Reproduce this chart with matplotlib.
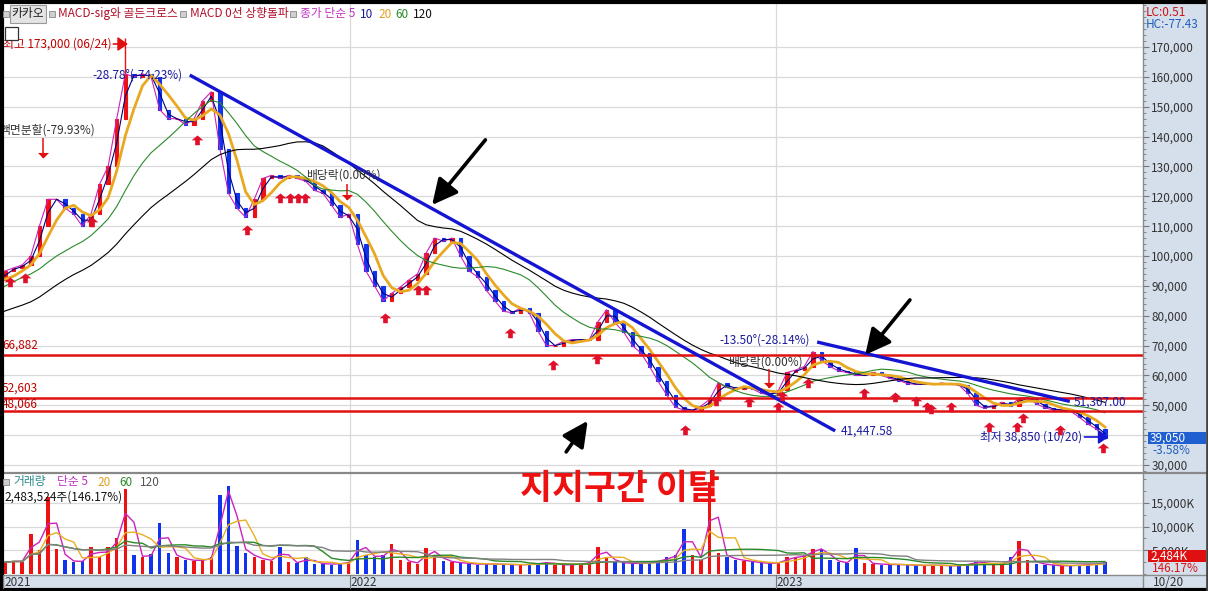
import numpy as np
import pandas as pd
import matplotlib
matplotlib.use("Agg")
import matplotlib.pyplot as plt
from matplotlib.path import Path
from matplotlib.patches import Rectangle
from matplotlib.lines import Line2D
from matplotlib.ticker import MultipleLocator

plt.rcParams['font.family'] = ['Noto Sans CJK KR', 'DejaVu Sans']

W, H = 1208, 591

# ---------------- data (weekly, Mar 2021 - Oct 2023) ----------------
warmup_close = [70000, 72000, 74000, 73000, 72000, 70000, 71000, 72000, 74000, 76000,
                75000, 74000, 76000, 78000, 80000, 86000, 90000, 92000, 94000, 96000,
                94000, 92000, 90000, 92000]
close = [95000, 96000, 97000, 100000, 110000, 119000, 119000, 116000, 114000, 110000,
         114000, 124000, 130000, 146000, 161000, 160000, 161000, 160000, 149000, 146000,
         146000, 144000, 146000, 152000, 155000, 136000, 121000, 116000, 113000, 119000,
         126000, 127000, 126000, 127000, 126000, 125000, 122000, 121000, 117000, 113000,
         114000, 104000, 95000, 90000, 85000, 87500, 89600, 92000, 94000, 101000,
         106000, 105000, 106000, 100000, 95000, 93000, 88500, 85000, 81500, 81000,
         82600, 81000, 75000, 70000, 70000, 71500, 72000, 72000, 72000, 78000,
         82000, 77600, 74500, 70000, 67500, 63000, 58000, 53500, 49400, 48400,
         48400, 49800, 52000, 57500, 56000, 55500, 56000, 55500, 54000, 53500,
         55000, 61000, 61800, 63000, 68000, 65000, 63000, 61500, 61000, 60000,
         60000, 61000, 60000, 59000, 58300, 57300, 57000, 57000, 57000, 57500,
         57000, 56800, 54000, 50000, 49000, 50000, 51000, 49800, 52400, 52600,
         50500, 49200, 48400, 48400, 48000, 46000, 43800, 42000, 39050]
volume_k = [2500, 2800, 2600, 8500, 5000, 16200, 5300, 3000, 2500, 2800,
            5600, 3500, 5800, 7700, 17900, 4000, 3500, 4200, 10800, 4500,
            3500, 3000, 2800, 3000, 3500, 16600, 18500, 6000, 4500, 3500,
            3000, 2800, 5600, 2500, 2300, 3500, 2200, 2200, 2000, 2300,
            2500, 7200, 4000, 3500, 4000, 6400, 3000, 2500, 2200, 5500,
            4000, 2800, 2500, 2300, 2200, 2000, 2200, 2000, 2100, 1900,
            2000, 2000, 2300, 2500, 2000, 1900, 2000, 2200, 2500, 5700,
            3500, 2500, 2300, 2200, 2300, 2500, 2800, 3500, 4000, 9600,
            4000, 3000, 19500, 4500, 3500, 3000, 2800, 2500, 2300, 2200,
            2500, 3500, 3500, 4000, 5300, 5300, 3000, 2500, 2300, 5500,
            2300, 2200, 2000, 2000, 2000, 1900, 1800, 1800, 1900, 1800,
            1700, 1800, 2200, 2500, 2300, 2000, 2200, 3500, 7000, 3000,
            2200, 2000, 1800, 1700, 1800, 1900, 2000, 2200, 2484]

peak_week, peak_high = 14, 173000
low_week, low_price = 128, 38850

year_labels = ["2021", "2022", "2023"]
year_pos = [-0.23, 40.1, 89.7]

support_levels = [66882, 52603, 48066]
support_labels = ["66,882", "52,603", "48,066"]

trend1_x, trend1_y = [21.5, 96.6], [160600, 41447.58]
trend2_x, trend2_y = [94.5, 123.9], [71200, 51307.0]

buy_x = [0.6, 2.3, 10.1, 22.3, 28.2, 32.0, 33.2, 34.1, 34.9, 44.2, 48.1, 49.0, 58.8, 63.8,
         68.9, 79.1, 82.7, 86.6, 90.0, 90.4, 93.4, 99.9, 103.6, 106.0, 107.3, 107.8,
         110.1, 114.5, 117.8, 118.5, 122.8, 127.8]
buy_y = [93000, 94300, 113000, 140500, 110400, 121100, 121100, 121100, 121100, 80900,
         90300, 90300, 75900, 65200, 67200, 43400, 53100, 52800, 51100, 54800, 59150,
         55800, 54500, 53100, 51100, 50400, 51100, 44400, 44400, 47400, 43400, 37400]

event_x = [4.4, 39.8, 88.9]
event_top = [139500, 124000, 62000]
event_bottom = [132800, 118800, 55800]

# ---------------- figure ----------------
fig = plt.figure(figsize=(W / 100, H / 100), dpi=100)
fig.patch.set_facecolor('white')


def fx(px):
    return px / W


def fy(py):
    return 1 - py / H


def ftext(px, py, s, **kw):
    kw.setdefault('va', 'center')
    kw.setdefault('ha', 'left')
    kw.setdefault('fontsize', 8.5)
    return fig.text(fx(px), fy(py), s, **kw)


def frect(px0, py0, px1, py1, z=5, **kw):
    fig.patches.append(Rectangle((fx(px0), fy(py1)), (px1 - px0) / W, (py1 - py0) / H,
                                 transform=fig.transFigure, zorder=z, **kw))


PANEL = '#d5dfeb'
frect(1143, 4, 1206, 575, z=-2, facecolor=PANEL, edgecolor='none')
frect(3, 575, 1206, 588, z=-2, facecolor=PANEL, edgecolor='none')

# ---------- price axes ----------
ax = fig.add_axes([fx(3), fy(472), fx(1143) - fx(3), fy(4) - fy(472)])
ax.set_xlim(-0.233, 132.42)
ax.set_ylim(27670, 184400)
for s in ax.spines.values():
    s.set_visible(False)
ax.set_xticks([])
ax.yaxis.tick_right()
ax.set_yticks(list(range(30000, 170001, 10000)))
ax.set_yticklabels([f"{v:,}" for v in range(30000, 170001, 10000)])
ax.yaxis.set_minor_locator(MultipleLocator(2000))
ax.tick_params(axis='y', which='major', direction='out', length=4, color='#777',
               labelsize=8.5, labelcolor='#333', pad=2)
ax.tick_params(axis='y', which='minor', direction='out', length=2, color='#777')
ax.grid(axis='y', color='#d9d9d9', lw=0.9, zorder=0)
for xp in year_pos[1:]:
    ax.axvline(xp, color='#d9d9d9', lw=0.9, zorder=0)

weeks = np.arange(len(close))
closes = np.array(close, dtype=float)
opens = np.concatenate([[warmup_close[-1]], closes[:-1]])
up = closes >= opens
ccol = np.where(up, '#ee1111', '#1133ee')
ax.bar(weeks, closes - opens, bottom=opens, width=0.4, color=ccol, edgecolor=ccol,
       linewidth=0.8, zorder=3)
ax.vlines(peak_week, max(closes[peak_week], opens[peak_week]), peak_high, color='#ee1111', lw=1, zorder=3)
ax.vlines(low_week, low_price, min(closes[low_week], opens[low_week]), color='#1133ee', lw=1, zorder=3)

full = pd.Series(warmup_close + close, dtype=float)
full_x = np.arange(-len(warmup_close), len(close))
ma_spec = [(1, '#cc22bb', 0.8), (2, '#000080', 0.8), (4, '#e8a820', 2.0),
           (12, '#2a8a2a', 0.8), (24, '#000000', 0.8)]
for win, col, lw in ma_spec:
    ma = full.rolling(win, min_periods=1).mean()
    ax.plot(full_x, ma, color=col, lw=lw, zorder=4)

# support lines
for lv, lab, dy in zip(support_levels, support_labels, [3300, 3300, 2200]):
    ax.axhline(lv, color='#e01010', lw=1.8, zorder=5)
    ax.text(-0.35, lv + dy, lab, color='#c00000', fontsize=8.5, ha='left', va='center', zorder=6)

# trend lines
ax.plot(trend1_x, trend1_y, color='#1414d2', lw=2.4, zorder=6, solid_capstyle='butt')
ax.plot(trend2_x, trend2_y, color='#1414d2', lw=2.4, zorder=6, solid_capstyle='butt')
ax.text(trend1_x[0] - 0.8, trend1_y[0], "-28.78°(-74.23%)", color='#1a1aa0', fontsize=8.5,
        ha='right', va='center', zorder=7)
ax.text(trend1_x[1] + 0.6, trend1_y[1], f"{trend1_y[1]:,.2f}", color='#1a1aa0', fontsize=8.5,
        ha='left', va='center', zorder=7)
ax.text(trend2_x[0] - 0.8, trend2_y[0] + 600, "-13.50°(-28.14%)", color='#1a1aa0', fontsize=8.5,
        ha='right', va='center', zorder=7)
ax.text(trend2_x[1] + 0.4, trend2_y[1] - 300, f"{trend2_y[1]:,.2f}", color='#1a1aa0', fontsize=8.5,
        ha='left', va='center', zorder=7)

# buy signal arrows
arrow_path = Path([(0, 0), (0.6, -0.5), (0.24, -0.5), (0.24, -1), (-0.24, -1), (-0.24, -0.5),
                   (-0.6, -0.5), (0, 0)], closed=True)
ax.plot(buy_x, buy_y, ls='none', marker=arrow_path, markersize=14, color='#e0102a',
        markeredgewidth=0, zorder=8)

# split / dividend events: thin red line ending in a down-pointing head
down_head = Path([(0, 0), (0.5, 0.5), (-0.5, 0.5), (0, 0)], closed=True)
ax.vlines(event_x, event_bottom, event_top, color='#e01010', lw=1.1, zorder=8)
ax.plot(event_x, event_bottom, ls='none', marker=down_head, markersize=8, color='#e01010',
        markeredgewidth=0, zorder=8)
ax.text(10.5, 142200, "액면분할(-79.93%)", color='#333333', fontsize=8.5, ha='right', va='center', zorder=7)
ax.text(35.0, 127100, "배당락(0.00%)", color='#333333', fontsize=8.5, ha='left', va='center', zorder=7)
ax.text(84.1, 64500, "배당락(0.00%)", color='#333333', fontsize=8.5, ha='left', va='center', zorder=7)

# high / low labels
ax.text(12.4, 171000, "최고 173,000 (06/24)", color='#c00000', fontsize=8.5, ha='right',
        va='center', zorder=7, clip_on=True)
ax.annotate('', xy=(14.3, 171000), xytext=(12.6, 171000),
            arrowprops=dict(arrowstyle='-|>,head_length=0.5,head_width=0.35', color='#e01010',
                            lw=1.2, mutation_scale=12, shrinkA=0, shrinkB=0), zorder=8)
ax.text(125.3, 39400, "최저 38,850 (10/20)", color='#1a1aa0', fontsize=8.5, ha='right',
        va='center', zorder=7)
ax.annotate('', xy=(128.4, 39400), xytext=(125.6, 39400),
            arrowprops=dict(arrowstyle='-|>,head_length=0.5,head_width=0.35', color='#1414d2',
                            lw=1.2, mutation_scale=12, shrinkA=0, shrinkB=0), zorder=8)

# black pointer arrows
for (x0, y0), (x1, y1) in [((55.9, 138900), (49.7, 117100)),
                           ((105.3, 85300), (100.1, 66900)),
                           ((65.3, 34400), (67.8, 44800))]:
    ax.annotate('', xy=(x1, y1), xytext=(x0, y0),
                arrowprops=dict(arrowstyle='-|>,head_length=0.7,head_width=0.35', color='black',
                                lw=2.6, mutation_scale=22, shrinkA=0, shrinkB=0), zorder=9)

# ---------- volume axes ----------
axv = fig.add_axes([fx(3), fy(574), fx(1143) - fx(3), fy(474) - fy(574)])
axv.set_xlim(-0.233, 132.42)
axv.set_ylim(0, 21120)
for s in axv.spines.values():
    s.set_visible(False)
axv.set_xticks([])
axv.yaxis.tick_right()
axv.set_yticks([5000, 10000, 15000])
axv.set_yticklabels(["5,000K", "10,000K", "15,000K"])
axv.yaxis.set_minor_locator(MultipleLocator(2500))
axv.tick_params(axis='y', which='major', direction='out', length=4, color='#777',
                labelsize=8.5, labelcolor='#333', pad=2)
axv.tick_params(axis='y', which='minor', direction='out', length=2, color='#777')
axv.grid(axis='y', color='#d9d9d9', lw=0.9, zorder=0)
for xp in year_pos[1:]:
    axv.axvline(xp, color='#d9d9d9', lw=0.9, zorder=0)
axv.bar(weeks, volume_k, width=0.4, color=ccol, zorder=3)
vol = pd.Series(volume_k, dtype=float)
for win, col in [(2, '#cc22bb'), (4, '#e8b020'), (12, '#2a8a2a'), (24, '#808080')]:
    axv.plot(weeks, vol.rolling(win, min_periods=1).mean(), color=col, lw=1.0, zorder=4)


# ---------- frame lines ----------
def fline(xs, ys, **kw):
    fig.add_artist(Line2D([fx(v) for v in xs], [fy(v) for v in ys], **kw))


fline([0, 1208], [473, 473], color='#888888', lw=1.6)
fline([1143, 1143], [4, 588], color='#8a8a8a', lw=1.0)
fline([3, 1206], [575, 575], color='#8a8a8a', lw=1.0)
fline([1.5, 1.5], [0, 591], color='black', lw=3)
fline([0, 1208], [2, 2], color='black', lw=3)
fline([0, 1208], [589.5, 589.5], color='black', lw=3)
fline([1206.5, 1206.5], [0, 591], color='#444444', lw=2)

# date bar
for lab, xp in zip(year_labels, year_pos):
    px = 5 + 8.594 * xp
    fline([px, px], [575, 588], color='#777777', lw=0.8)
    ftext(px + 1, 582, lab, color='#333333', fontsize=8.5)
ftext(1153, 582, "10/20", color='#333333', fontsize=8.5)


# ---------- top legend ----------
def small_box(px, py):
    frect(px, py - 3, px + 6, py + 3, z=5, facecolor='#cfcfcf', edgecolor='#888888', lw=0.6)


small_box(3, 14)
frect(10, 5, 46, 23, z=5, facecolor='#e4e4e4', edgecolor='#9a9a9a', lw=0.8)
ftext(28, 14, "카카오", color='#222222', fontsize=8.5, ha='center', zorder=6)
small_box(49, 14)
ftext(58, 14, "MACD-sig와 골든크로스", color='#b0102a', fontsize=8.5)
small_box(180, 14)
ftext(190, 14, "MACD 0선 상향돌파", color='#b0102a', fontsize=8.5)
small_box(290, 14)
ftext(300, 14, "종가 단순 5", color='#c030c0', fontsize=8.5)
ftext(360, 14, "10", color='#1a1a90', fontsize=8.5)
ftext(378, 14, "20", color='#e0a020', fontsize=8.5)
ftext(395, 14, "60", color='#2a8a2a', fontsize=8.5)
ftext(413, 14, "120", color='#111111', fontsize=8.5)

# small table icon
frect(5, 27, 18, 40, z=6, facecolor='white', edgecolor='#333333', lw=0.9)
for k in (1, 2):
    fline([5 + 13 * k / 3, 5 + 13 * k / 3], [29, 39], color='#666666', lw=0.6)
    fline([6, 17], [27 + 13 * k / 3, 27 + 13 * k / 3], color='#666666', lw=0.6)

# right panel texts
ftext(1146, 12, "LC:0.51", color='#cc1111', fontsize=8.5)
ftext(1146, 25, "HC:-77.43", color='#1f5fbf', fontsize=8.5)
frect(1148, 432, 1206, 444, z=5, facecolor='#1f5fd0', edgecolor='none')
ftext(1150, 438, f"{close[-1]:,}", color='white', fontsize=8.5, zorder=6)
ftext(1152, 451, "-3.58%", color='#1f5fbf', fontsize=8.5)
frect(1148, 550, 1206, 562, z=5, facecolor='#e01010', edgecolor='none')
ftext(1150, 556, "2,484K", color='white', fontsize=8.5, zorder=6)
ftext(1152, 568, "146.17%", color='#dd1111', fontsize=8.5)

# volume legend
small_box(3, 482)
ftext(13, 482, "거래량", color='#2a8a8a', fontsize=8.5)
ftext(57, 482, "단순 5", color='#c030c0', fontsize=8.5)
ftext(97, 482, "20", color='#e0a020', fontsize=8.5)
ftext(119, 482, "60", color='#2a8a2a', fontsize=8.5)
ftext(140, 482, "120", color='#555555', fontsize=8.5)
ftext(4, 497, "2,483,524주(146.17%)", color='#111111', fontsize=8.5)

# big annotation
ftext(620, 489, "지지구간 이탈", color='#ee1111', fontsize=25, fontweight='bold', ha='center', zorder=10)

fig.savefig("out.png", dpi=100)
